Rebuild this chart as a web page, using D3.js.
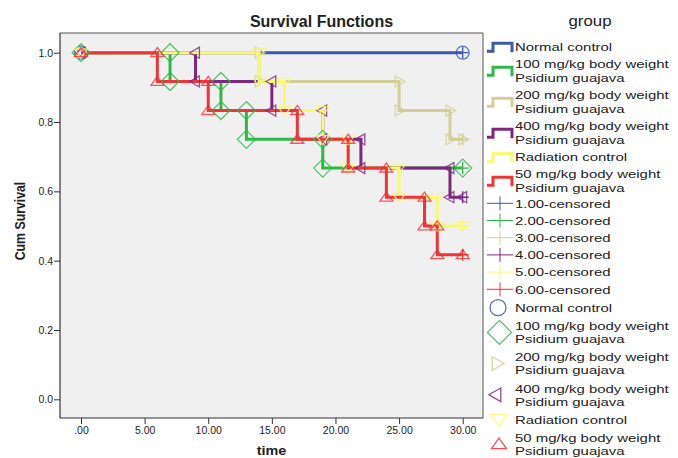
<!DOCTYPE html>
<html><head><meta charset="utf-8">
<script src="https://cdn.jsdelivr.net/npm/d3@7"></script>
<style>html,body{margin:0;padding:0;background:#fff}svg{display:block;font-family:"Liberation Sans",Arial,sans-serif}</style>
</head><body><svg id="c" width="678" height="458"></svg>
<script>
// ---- data ----
const groupNames = ["Normal control","100 mg/kg body weight Psidium guajava","200 mg/kg body weight Psidium guajava","400 mg/kg body weight Psidium guajava","Radiation control","50 mg/kg body weight Psidium guajava"];
const legendLines = [["Normal control"],["100 mg/kg body weight","Psidium guajava"],["200 mg/kg body weight","Psidium guajava"],["400 mg/kg body weight","Psidium guajava"],["Radiation control"],["50 mg/kg body weight","Psidium guajava"]];
const censoredLabels = ["1.00-censored","2.00-censored","3.00-censored","4.00-censored","5.00-censored","6.00-censored"];
const normalTimes = [0, 30];               const normalSurv = [1, 1];
const g100Times = [0, 7, 11, 13, 19, 30];   const g100Surv = [1, 0.917, 0.833, 0.75, 0.667, 0.667];
const g200Times = [0, 14, 25, 29, 30];      const g200Surv = [1, 0.917, 0.833, 0.75, 0.75];
const g400Times = [0, 9, 15, 19, 22, 29, 30]; const g400Surv = [1, 0.917, 0.833, 0.75, 0.667, 0.583, 0.583];
const radTimes = [0, 14, 16, 19, 21, 25, 28, 30]; const radSurv = [1, 0.917, 0.833, 0.75, 0.667, 0.583, 0.5, 0.5];
const g50Times = [0, 6, 10, 17, 21, 24, 27, 28, 30]; const g50Surv = [1, 0.917, 0.833, 0.75, 0.667, 0.583, 0.5, 0.417, 0.417];
const xTicks = [0, 5, 10, 15, 20, 25, 30];
const yTicks = [0, 0.2, 0.4, 0.6, 0.8, 1.0];
const colors = ["#3E58AC","#2EB848","#D3CE97","#7C287D","#FBF873","#EF3338"];
const symbolsKind = ["circle","diamond","right","left","down","up"];

const series = [[normalTimes,normalSurv],[g100Times,g100Surv],[g200Times,g200Surv],[g400Times,g400Surv],[radTimes,radSurv],[g50Times,g50Surv]]
  .map(([t,s],i)=>({name:groupNames[i], pts:t.map((d,j)=>[d,s[j]]), color:colors[i], sym:symbolsKind[i]}));

// ---- layout ----
const svg = d3.select("#c");
const L=60, R=483, T=33, B=418;
const x = d3.scaleLinear().domain([0,30]).range([81,462.7]);
const y = d3.scaleLinear().domain([0,1]).range([399.3,52.7]);

svg.append("rect").attr("x",L).attr("y",T).attr("width",R-L).attr("height",B-T).attr("fill","#F0F0F0");
svg.append("line").attr("x1",L).attr("x2",R).attr("y1",T).attr("y2",T).attr("stroke","#8a8a8a").attr("stroke-width",1.5);
svg.append("line").attr("x1",R).attr("x2",R).attr("y1",T).attr("y2",B).attr("stroke","#555").attr("stroke-width",1);
svg.append("line").attr("x1",L).attr("x2",L).attr("y1",T).attr("y2",B).attr("stroke","#333").attr("stroke-width",1.2);
svg.append("line").attr("x1",L).attr("x2",R).attr("y1",B).attr("y2",B).attr("stroke","#333").attr("stroke-width",1.2);

// axes
const ya = svg.append("g").attr("transform",`translate(${L},0)`)
  .call(d3.axisLeft(y).tickValues(yTicks).tickFormat(d3.format(".1f")).tickSize(6).tickSizeOuter(0));
ya.select(".domain").remove();
ya.selectAll("line").attr("stroke","#333");
ya.selectAll("text").attr("font-size",10.5).attr("fill","#222").attr("font-family","Liberation Sans, Arial").attr("x",-7);
const xa = svg.append("g").attr("transform",`translate(0,${B})`)
  .call(d3.axisBottom(x).tickValues(xTicks).tickFormat(d=>d===0?".00":d.toFixed(2)).tickSize(6).tickSizeOuter(0));
xa.select(".domain").remove();
xa.selectAll("line").attr("stroke","#333");
xa.selectAll("text").attr("font-size",10.5).attr("fill","#222").attr("font-family","Liberation Sans, Arial").attr("y",9);

svg.append("text").attr("x",321.5).attr("y",26.5).attr("text-anchor","middle").attr("font-weight","bold").attr("font-size",16).attr("fill","#222").text("Survival Functions");
svg.append("text").attr("transform","translate(25,221) scale(1.2,1) rotate(-90)").attr("text-anchor","middle").attr("font-weight","bold").attr("font-size",12.3).attr("fill","#222").text("Cum Survival");
svg.append("text").attr("transform","translate(271.5,455) scale(1.15,1)").attr("text-anchor","middle").attr("font-weight","bold").attr("font-size",12.5).attr("fill","#222").text("time");

// symbol paths
function symPath(kind, s){
  switch(kind){
    case "circle": return `M${s},0A${s},${s} 0 1,1 ${-s},0A${s},${s} 0 1,1 ${s},0Z`;
    case "diamond": return `M0,${-s}L${s},0L0,${s}L${-s},0Z`;
    case "right": return `M${s*0.9},0L${-s*0.6},${-s*0.85}L${-s*0.6},${s*0.85}Z`;
    case "left": return `M${-s*0.9},0L${s*0.6},${-s*0.85}L${s*0.6},${s*0.85}Z`;
    case "down": return `M0,${s*0.8}L${s},${-s*0.6}L${-s},${-s*0.6}Z`;
    case "up": return `M0,${-s*0.8}L${s},${s*0.6}L${-s},${s*0.6}Z`;
  }
}
const symSize = {circle:6.5, diamond:9, right:6.5, left:6.5, down:6.5, up:6.5};

// step lines
const line = d3.line().x(d=>x(d[0])).y(d=>y(d[1])).curve(d3.curveStepAfter);
series.forEach(s=>{
  svg.append("path").attr("d",line(s.pts)).attr("fill","none").attr("stroke",s.color).attr("stroke-width",3);
});

// markers at corners
series.forEach(s=>{
  const marks=[];
  s.pts.forEach((p,j)=>{
    if(j===0){ marks.push(p); return; }
    if(p[1]!==s.pts[j-1][1]){ marks.push([p[0], s.pts[j-1][1]]); marks.push(p); }
    else marks.push(p);
  });
  const g = svg.append("g");
  g.selectAll("path").data(marks).join("path")
    .attr("transform",d=>`translate(${x(d[0])},${y(d[1])})`)
    .attr("d",symPath(s.sym, symSize[s.sym]))
    .attr("fill","none").attr("stroke",s.color).attr("stroke-width",1.3).attr("stroke-opacity",0.8);
  const last = s.pts[s.pts.length-1];
  g.append("path").attr("transform",`translate(${x(last[0])},${y(last[1])})`)
    .attr("d","M-6,0H6M0,-6V6").attr("stroke",s.color).attr("stroke-width",1.3).attr("fill","none");
});

// ---- legend ----
const lg = svg.append("g");
const tx = 515, sx = 1.3, lfs = 11.5;
function ltext(str, cy){
  lg.append("text").attr("transform",`translate(${tx},${cy+4.2}) scale(${sx},1)`).attr("font-size",lfs).attr("fill","#222").text(str);
}
lg.append("text").attr("transform","translate(590,26) scale(1.2,1)").attr("text-anchor","middle").attr("font-size",14).attr("fill","#222").text("group");
let cy = 46.7;
legendLines.forEach((lines,i)=>{
  const c = cy + (lines.length-1)*13.5/2 + 0.5;
  lg.append("path").attr("d",`M487,${c+4}H493V${c-4}H512V${c+5}`).attr("fill","none").attr("stroke",colors[i]).attr("stroke-width",3);
  lines.forEach((t,k)=>ltext(t, cy + k*13.8));
  cy += (lines.length-1)*13.8 + 17.2;
});
cy = 203.3;
censoredLabels.forEach((t,i)=>{
  lg.append("path").attr("d",`M487,${cy}H513M500,${cy-7}V${cy+7}`).attr("stroke",colors[i]).attr("stroke-width",1).attr("fill","none");
  ltext(t, cy);
  cy += 17.2;
});
cy = 307.7;
const legSym = {circle:8, diamond:12, right:8, left:8, down:8.5, up:7.5};
const legX = {circle:498, diamond:499.5, right:497, left:496, down:499, up:499};
legendLines.forEach((lines,i)=>{
  const c = cy + (lines.length-1)*6.5;
  lg.append("path").attr("transform",`translate(${legX[symbolsKind[i]]},${c})`).attr("d",symPath(symbolsKind[i], legSym[symbolsKind[i]]))
    .attr("fill","none").attr("stroke",colors[i]).attr("stroke-width",1.3).attr("stroke-opacity",0.85);
  lines.forEach((t,k)=>ltext(t, cy + k*13));
  cy += (lines.length-1)*13 + 18.2;
});
</script></body></html>
